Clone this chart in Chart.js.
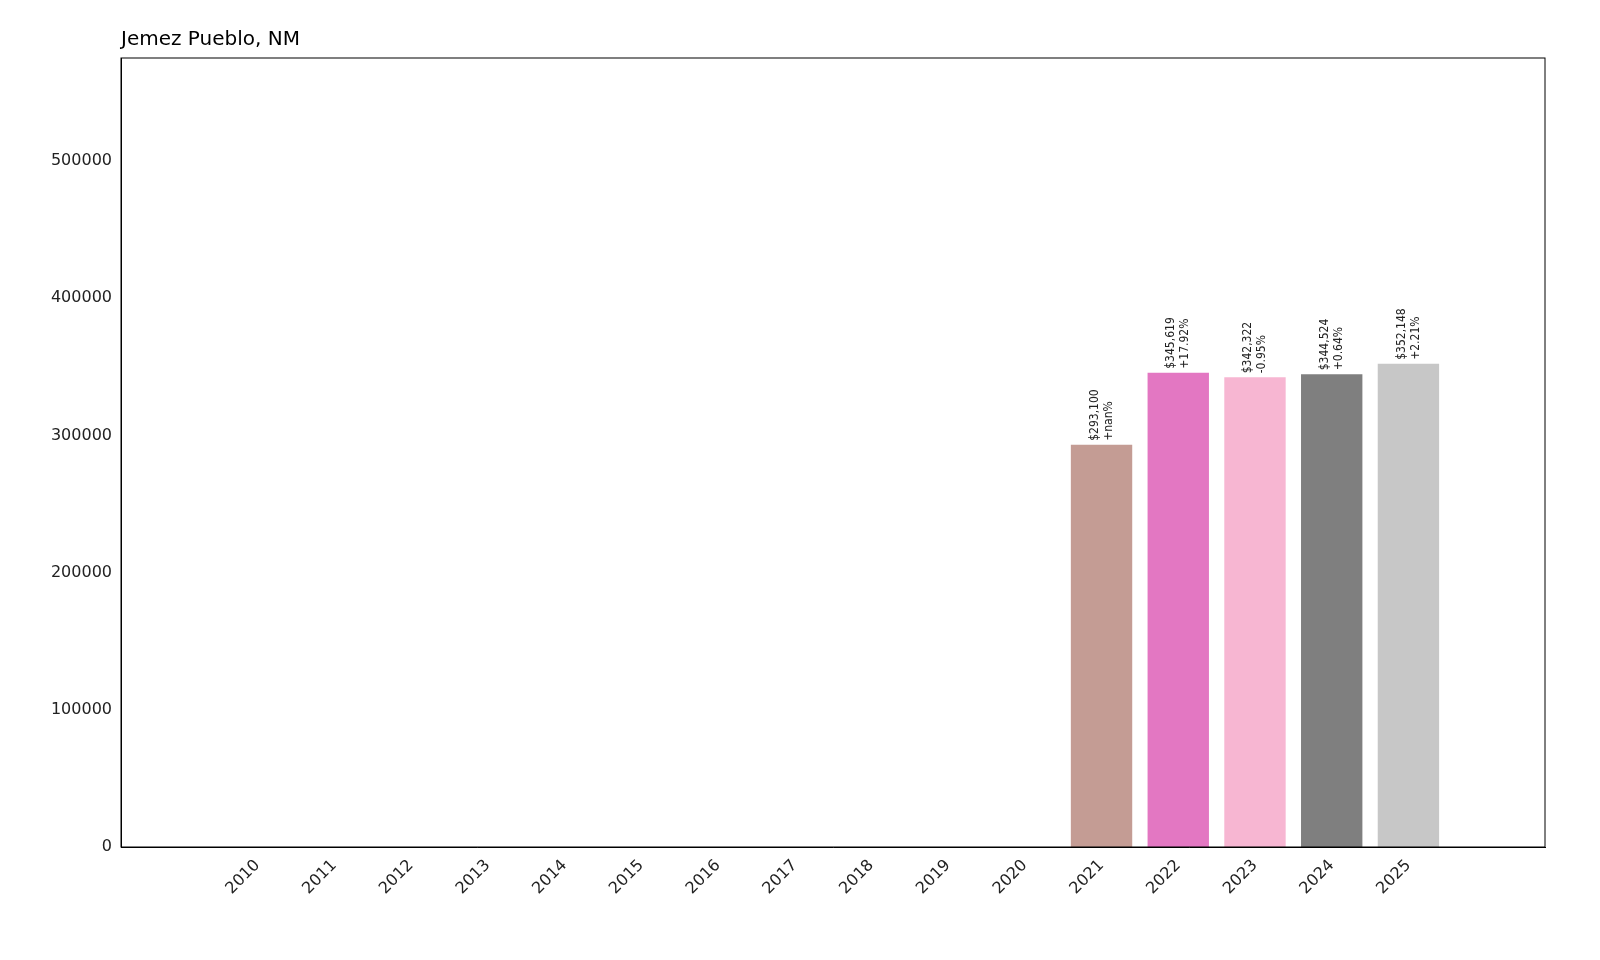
<!DOCTYPE html>
<html><head><meta charset="utf-8">
<script src="https://cdn.jsdelivr.net/npm/chart.js@4"></script>
<style>html,body{margin:0;background:#fff;overflow:hidden}canvas{display:block}</style>
</head><body><canvas id="c" width="1600" height="960" style="width:1600px;height:960px"></canvas>
<script>
const years=['2010','2011','2012','2013','2014','2015','2016','2017','2018','2019','2020','2021','2022','2023','2024','2025'];
const values=[0,0,0,0,0,0,0,0,0,0,0,293100,345619,342322,344524,352148];
const changes=['','','','','','','','','','','','+nan%','+17.92%','-0.95%','+0.64%','+2.21%'];
const colors=['#1f77b4','#ff7f0e','#2ca02c','#d62728','#9467bd','#8c564b','#e377c2','#7f7f7f','#bcbd22','#17becf','#1f77b4','#c49c94','#e377c2','#f7b6d2','#7f7f7f','#c7c7c7'];
const yTicks=[0,100000,200000,300000,400000,500000];
const F='"DejaVu Sans", sans-serif';
const labelPlugin={id:'lbl',afterDatasetsDraw(ch){const c=ch.ctx,xs=ch.scales.x,ys=ch.scales.y;
 c.save();c.font='12px "Liberation Sans Narrow", "DejaVu Sans Condensed", '+F;c.fillStyle='#222';c.textAlign='left';c.textBaseline='middle';
 values.forEach((v,i)=>{if(!v)return;const x=xs.getPixelForValue(i),y=ys.getPixelForValue(v)-4;
  c.save();c.translate(x,y);c.rotate(-Math.PI/2);
  c.fillText('$'+v.toLocaleString('en-US'),0,-7);c.fillText(changes[i],0,7);c.restore();});
 const a=ch.chartArea;c.strokeStyle='#000';c.lineWidth=1;c.strokeRect(a.left,a.top,a.right-a.left,a.bottom-a.top);
 c.font='20px '+F;c.textBaseline='bottom';c.fillStyle='#000';c.fillText('Jemez Pueblo, NM',a.left,a.top-8);
 c.restore();}};
new Chart(document.getElementById('c'),{type:'bar',
 data:{datasets:[{data:values.map((v,i)=>({x:i,y:v})),backgroundColor:colors,barPercentage:0.8,categoryPercentage:1}]},
 options:{responsive:false,animation:false,devicePixelRatio:1,
  layout:{padding:{left:0,right:55,top:58,bottom:0}},
  plugins:{legend:{display:false},tooltip:{enabled:false}},
  scales:{
   x:{type:'linear',min:-1.2,max:16.2,grid:{display:false,drawTicks:true,tickLength:6,tickColor:'#000'},border:{color:'#000'},
    afterBuildTicks:s=>{s.ticks=years.map((y,i)=>({value:i}));},
    afterFit:s=>{s.height=113;},
    ticks:{autoSkip:false,maxRotation:45,minRotation:45,color:'#222',font:{size:16,family:F},callback:(v)=>years[v]}},
   y:{min:0,max:575000,grid:{display:false,drawTicks:true,tickLength:6,tickColor:'#000'},border:{color:'#000'},
    afterBuildTicks:s=>{s.ticks=yTicks.map(v=>({value:v}));},
    afterFit:s=>{s.width=121;},
    ticks:{color:'#222',font:{size:16,family:F},callback:v=>String(v)}}}},
 plugins:[labelPlugin]});
</script></body></html>
